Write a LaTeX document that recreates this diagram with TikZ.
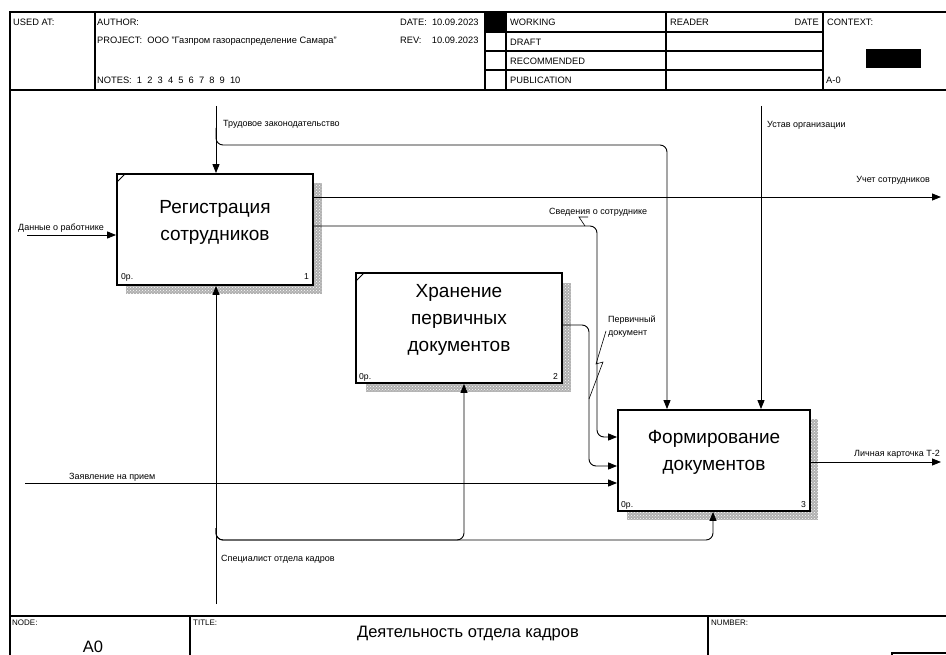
\documentclass[tikz,border=0pt]{standalone}
\usepackage{fontspec}
\setmainfont{Liberation Sans}
\usetikzlibrary{arrows.meta,patterns}
\begin{document}
\begin{tikzpicture}[x=1pt,y=-1pt,
  con/.style={line width=0.9pt},
  arr/.style={con,-{Triangle[length=9pt,width=7pt]}},
  frame/.style={line width=1.1pt},
  hd/.style={font=\fontsize{9.3}{11}\selectfont, inner sep=0pt, anchor=base west},
  lbl/.style={font=\fontsize{9}{13}\selectfont, inner sep=0pt, anchor=base west},
  lble/.style={lbl, anchor=base east},
  box/.style={draw, line width=1.8pt, fill=white, inner sep=0pt},
  big/.style={font=\fontsize{19}{27}\selectfont, align=center, inner sep=0pt},
  shadowbase/.style={fill=gray!62},
  shadowbox/.style={pattern=crosshatch dots, pattern color=white},
  num/.style={font=\fontsize{8.6}{10}\selectfont, inner sep=0pt}
]
\useasboundingbox (0,0) rectangle (946,655);
\clip (0,0) rectangle (946,655);

% ---------- header frame ----------
\draw[frame] (10,660) -- (10,12) -- (950,12);
\draw[frame] (10,90) -- (950,90);
\draw[frame] (95,12) -- (95,90);
\draw[frame] (485,12) -- (485,90);
\draw[frame] (506,12) -- (506,90);
\draw[frame] (666,12) -- (666,90);
\draw[frame] (823,12) -- (823,90);
\draw[frame] (485,32) -- (823,32);
\draw[frame] (485,51) -- (823,51);
\draw[frame] (485,70) -- (823,70);
\fill (485,12) rectangle (506,32);
\fill (866,49) rectangle (921,68);

\node[hd] (usedat) at (13,26) {USED AT:};
\node[hd] (author) at (97,26) {AUTHOR:};
\node[hd] (project) at (97,44) {PROJECT:\ \ ООО "Газпром газораспределение Самара"};
\node[hd] (notes) at (97,84) {NOTES:\ \ 1\ \ 2\ \ 3\ \ 4\ \ 5\ \ 6\ \ 7\ \ 8\ \ 9\ \ 10};
\node[hd] (date) at (400,26) {DATE:\ \ 10.09.2023};
\node[hd] (rev) at (400,44) {REV:\ \ \ \ 10.09.2023};
\node[hd] (working) at (510,26) {WORKING};
\node[hd] (draft) at (510,46) {DRAFT};
\node[hd] (recom) at (510,65) {RECOMMENDED};
\node[hd] (publ) at (510,84) {PUBLICATION};
\node[hd] (reader) at (670,26) {READER};
\node[hd, anchor=base east] (rdate) at (819,26) {DATE};
\node[hd] (context) at (827,26) {CONTEXT:};
\node[hd] (a0small) at (826,84) {A-0};

% ---------- footer ----------
\draw[frame] (10,616) -- (950,616);
\draw[frame] (190,616) -- (190,660);
\draw[frame] (708,616) -- (708,660);
\draw[frame] (892,653) rectangle (960,680);
\node[hd, font=\fontsize{8}{9}\selectfont] (node) at (12,625) {NODE:};
\node[hd, font=\fontsize{8}{9}\selectfont] (title) at (193,625) {TITLE:};
\node[hd, font=\fontsize{8}{9}\selectfont] (number) at (711,625) {NUMBER:};
\node[inner sep=0pt, anchor=base, font=\fontsize{16.5}{18}\selectfont] (ttext) at (468,637) {Деятельность отдела кадров};
\node[inner sep=0pt, anchor=base, font=\fontsize{16.5}{18}\selectfont] (a0) at (93,652) {A0};

% ---------- boxes ----------
\fill[shadowbase] (126,183) rectangle (322,294);
\fill[shadowbox] (126,183) rectangle (322,294);
\node[box, minimum width=196pt, minimum height=111pt] (b1) at (215,229.5) {};
\draw[line width=0.8pt] (117,182) -- (125,174);
\node[big] (t1) at (215,222) {Регистрация\\сотрудников};
\node[num, anchor=base west] (n1a) at (121,280) {0р.};
\node[num, anchor=base east] (n1b) at (309,280) {1};

\fill[shadowbase] (366,283) rectangle (571,392);
\fill[shadowbox] (366,283) rectangle (571,392);
\node[box, minimum width=206pt, minimum height=110pt] (b2) at (459,328) {};
\draw[line width=0.8pt] (356,281) -- (364,273);
\node[big] (t2) at (459,320) {Хранение\\первичных\\документов};
\node[num, anchor=base west] (n2a) at (359,380) {0р.};
\node[num, anchor=base east] (n2b) at (558,380) {2};

\fill[shadowbase] (627,419) rectangle (818,520);
\fill[shadowbox] (627,419) rectangle (818,520);
\node[box, minimum width=192pt, minimum height=101pt] (b3) at (714,460.5) {};
\node[big] (t3) at (714,452) {Формирование\\документов};
\node[num, anchor=base west] (n3a) at (621,507) {0р.};
\node[num, anchor=base east] (n3b) at (806,507) {3};

% ---------- coordinates ----------
\coordinate (tz) at (216,106);
\coordinate (tzb) at (216,128);
\coordinate (tzc) at (216,145);
\coordinate (tzr) at (667,145);
\coordinate (us) at (761,106);
\coordinate (uc) at (941,197);
\coordinate (uco) at (313,197);
\coordinate (svo) at (313,226);
\coordinate (sv) at (597,226);
\coordinate (svin) at (597,437);
\coordinate (pdo) at (562,325);
\coordinate (pd) at (589,325);
\coordinate (pdin) at (589,466);
\coordinate (zs) at (25,483);
\coordinate (dr) at (27,235);
\coordinate (lko) at (810,462);
\coordinate (lk) at (941,462);
\coordinate (sp) at (216,604);
\coordinate (spb) at (216,528);
\coordinate (spc) at (216,540);
\coordinate (sp2) at (464,540);
\coordinate (sp3) at (713,540);

% ---------- connectors ----------
% controls
\draw[arr] (tz) -- (tz |- b1.north);
\draw[arr, rounded corners=7pt] (tzb) -- (tzc) -- (tzr) -- (tzr |- b3.north);
\draw[arr] (us) -- (us |- b3.north);
% inputs
\draw[arr] (dr) -- (dr -| b1.west);
\draw[arr] (zs) -- (zs -| b3.west);
% outputs
\draw[arr] (uco) -- (uc);
\draw[arr, rounded corners=7pt] (svo) -- (sv) -- (svin) -- (svin -| b3.west);
\draw[arr, rounded corners=7pt] (pdo) -- (pd) -- (pdin) -- (pdin -| b3.west);
\draw[arr] (lko) -- (lk);
% mechanisms
\draw[arr] (sp) -- (sp |- b1.south);
\draw[arr, rounded corners=7pt] (spb) -- (spc) -- (sp2) -- (sp2 |- b2.south);
\draw[arr, rounded corners=7pt] (spb) -- (spc) -- (sp3) -- (sp3 |- b3.south);

% leaders
\draw[line width=0.6pt] (588,217) -- (579,217) -- (585,226);
\draw[line width=0.6pt] (606,331) -- (596,364) -- (603,362) -- (589,399);

% ---------- labels ----------
\node[lbl] (ltz) at (223,127) {Трудовое законодательство};
\node[lbl] (lus) at (767,128) {Устав организации};
\node[lble] (luc) at (930,183) {Учет сотрудников};
\node[lbl] (lsv) at (549,215) {Сведения о сотруднике};
\node[lbl, align=left, anchor=north west] (lpd) at (608,316) {Первичный\\документ};
\node[lbl] (ldr) at (18,231) {Данные о работнике};
\node[lbl] (lzs) at (69,479) {Заявление на прием};
\node[lble] (llk) at (940,456) {Личная карточка Т-2};
\node[lbl] (lsp) at (221,561) {Специалист отдела кадров};
\end{tikzpicture}
\end{document}
